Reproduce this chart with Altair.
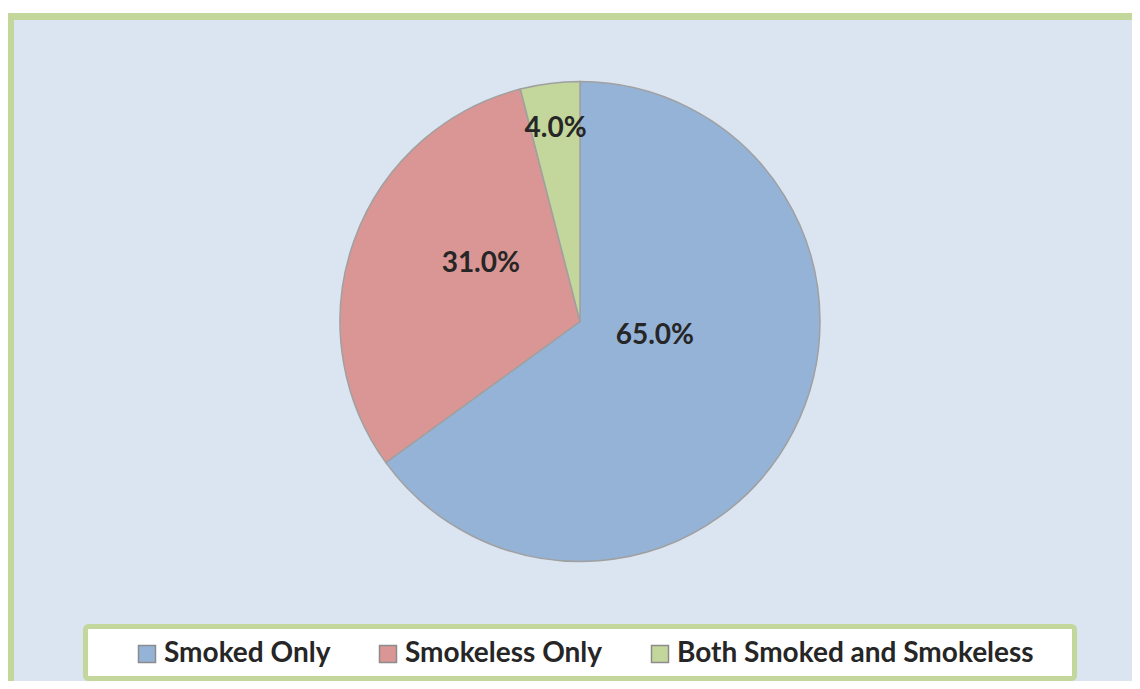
import altair as alt
import pandas as pd

categories = ["Smoked Only", "Smokeless Only", "Both Smoked and Smokeless"]
values = [65.0, 31.0, 4.0]
labels = ["65.0%", "31.0%", "4.0%"]
colors = ["#95b3d7", "#d99694", "#c3d69b"]

df = pd.DataFrame({"cat": categories, "value": values, "label": labels,
                   "idx": list(range(len(categories)))})
deco = pd.DataFrame({"a": [0]})

CX, CY, R = 572, 313.5, 240
FONT = "Lato"
TXT = "#262626"
FS = 28

bg = alt.Chart(deco).mark_rect(fill="#dbe5f1").encode(
    x=alt.value(2.5), x2=alt.value(1124), y=alt.value(8.5), y2=alt.value(673))
left_border = alt.Chart(deco).mark_rule(stroke="#c3d69b", strokeWidth=7).encode(
    x=alt.value(2.5), y=alt.value(5), y2=alt.value(673))
top_border = alt.Chart(deco).mark_rule(stroke="#c3d69b", strokeWidth=7).encode(
    x=alt.value(-1), x2=alt.value(1124), y=alt.value(8.5))

legbox = alt.Chart(deco).mark_rect(fill="white", stroke="#c3d69b", strokeWidth=5,
                                   cornerRadius=3).encode(
    x=alt.value(77.5), x2=alt.value(1066.5), y=alt.value(618.5), y2=alt.value(670.5))

base = alt.Chart(df)

pie = base.mark_arc(outerRadius=R, stroke="#a0a0a0", strokeWidth=1.5, x=CX, y=CY).encode(
    theta=alt.Theta("value:Q", stack=True, scale=alt.Scale(domain=[0, 100])),
    order=alt.Order("idx:Q"),
    color=alt.Color("cat:N", scale=alt.Scale(domain=categories, range=colors),
                    legend=alt.Legend(title=None, orient="none", direction="horizontal",
                                      legendX=125, legendY=632,
                                      symbolType="square", symbolSize=289,
                                      symbolStrokeColor="#8c8c8c", symbolStrokeWidth=1.5,
                                      symbolOpacity=1,
                                      labelFont=FONT, labelFontSize=FS, labelFontWeight="bold",
                                      labelColor=TXT, labelOffset=3, columnPadding=43,
                                      padding=0, labelLimit=600)),
)

lab_base = base.transform_window(cum="sum(value)", sort=[alt.SortField("idx")]).transform_calculate(
    mid="datum.cum - datum.value / 2")

def lab(cat, radius, dx, dy):
    return lab_base.transform_filter(alt.datum.cat == cat).mark_text(
        radius=radius, x=CX, y=CY, dx=dx, dy=dy, font=FONT, fontSize=FS,
        fontWeight="bold", color=TXT, align="center", baseline="middle").encode(
        theta=alt.Theta("mid:Q", stack=False, scale=alt.Scale(domain=[0, 100])),
        text="label:N")

texts = [lab("Smoked Only", 75, 8, -20), lab("Smokeless Only", 115, 9, -18.5),
         lab("Both Smoked and Smokeless", 195, 0, 1)]

chart = alt.layer(bg, left_border, top_border, legbox, pie, *texts).properties(
    width=1124, height=673, padding=0, autosize="none", background="white"
).configure_view(strokeWidth=0)

chart.save("out.html", embed_options={"renderer": "svg", "actions": False})
